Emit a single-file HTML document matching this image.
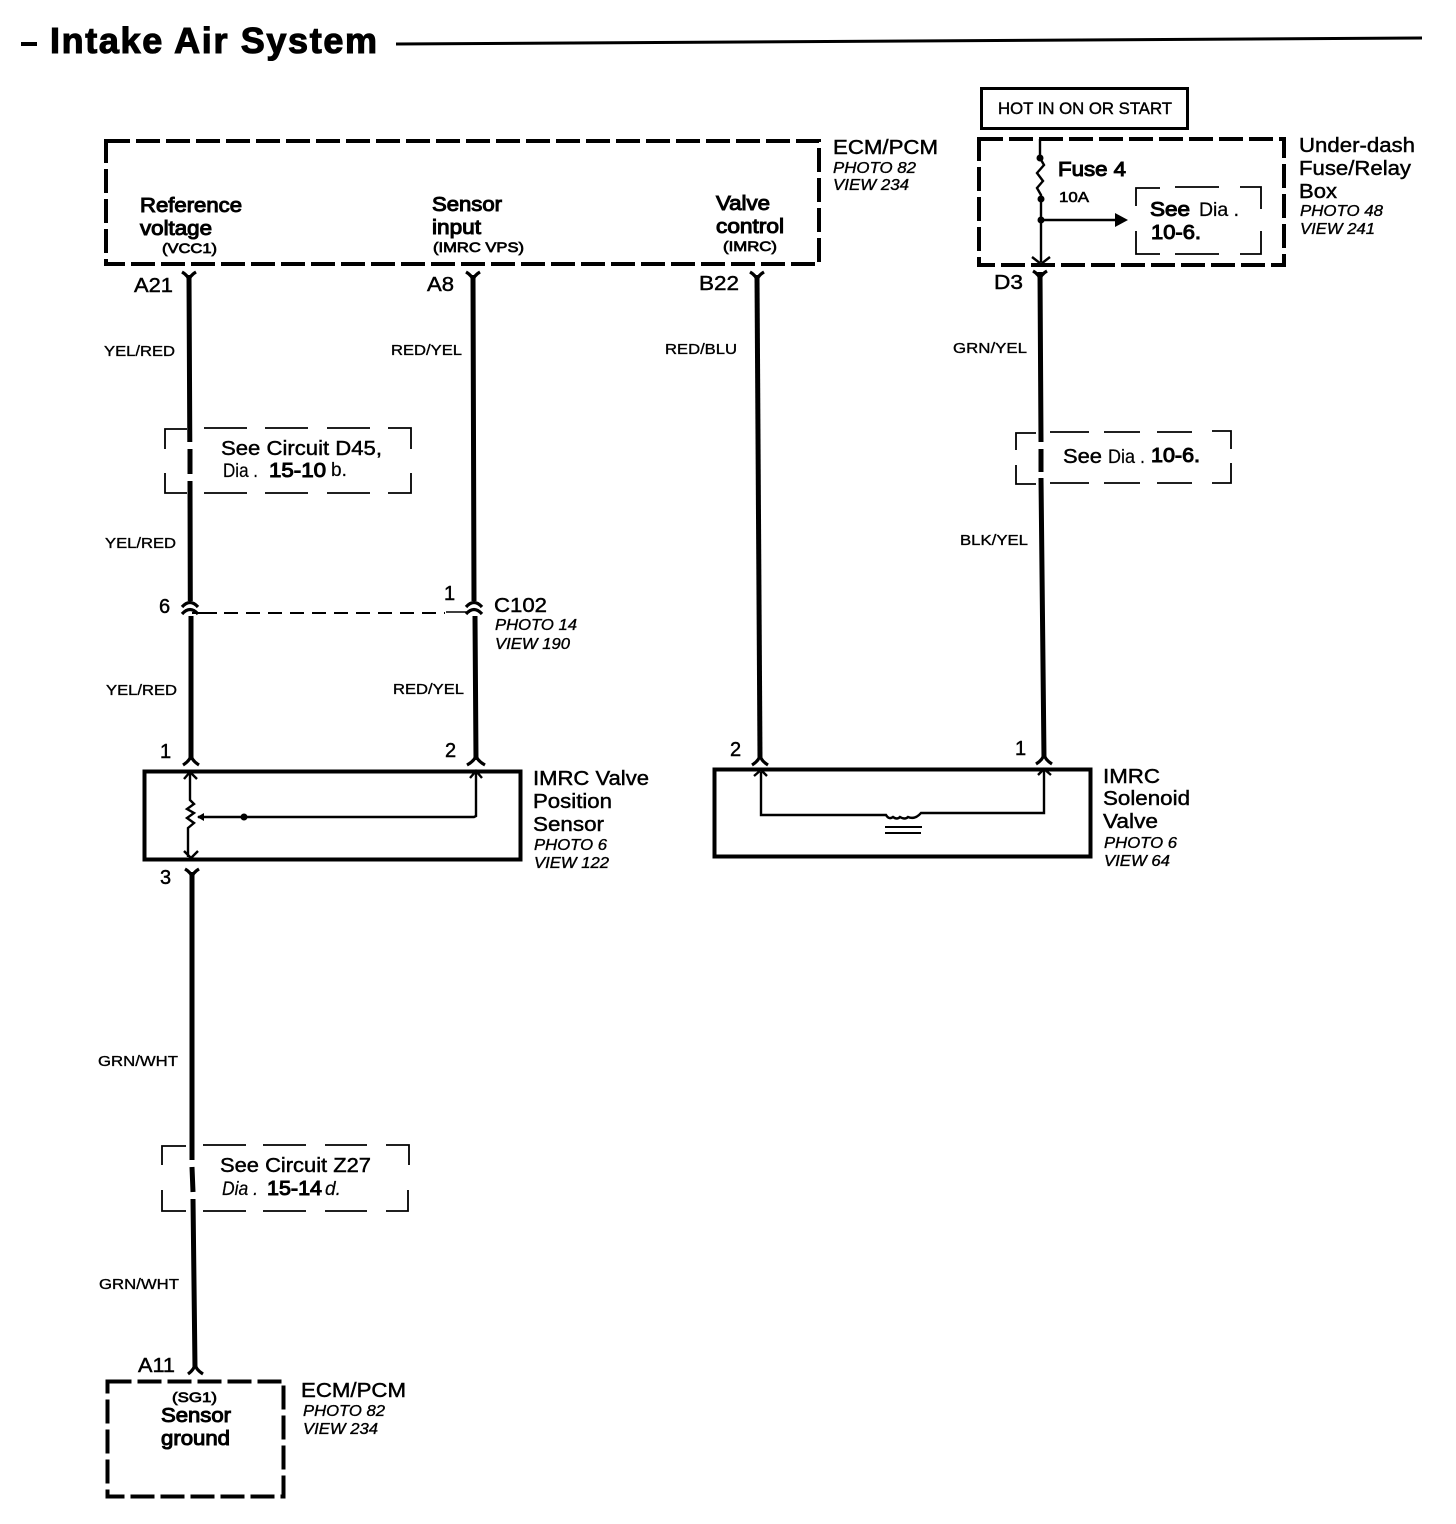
<!DOCTYPE html>
<html><head><meta charset="utf-8"><title>Intake Air System</title>
<style>
html,body{margin:0;padding:0;background:#fff;width:1456px;height:1524px;overflow:hidden}
svg{display:block}
text{font-family:"Liberation Sans",sans-serif;fill:#000}
.l{font-size:20px;stroke:#000;stroke-width:.45}
.b{font-size:20px;stroke:#000;stroke-width:1}
.s{font-size:15px;stroke:#000;stroke-width:.35}
.i{font-size:15.5px;font-style:italic;stroke:#000;stroke-width:.35}
.m{font-size:14px;stroke:#000;stroke-width:.7}
.w{fill:none;stroke:#000;stroke-width:5}
.t{fill:none;stroke:#000;stroke-width:2.4}
.c{fill:none;stroke:#000;stroke-width:3.2}
.d{fill:none;stroke:#000;stroke-width:4;stroke-dasharray:24 6}
.n{fill:none;stroke:#000;stroke-width:1.8}
</style></head><body>
<svg width="1456" height="1524" viewBox="0 0 1456 1524" xmlns="http://www.w3.org/2000/svg">
<rect width="1456" height="1524" fill="#fff"/>

<!-- Title -->
<path d="M21 44H37" stroke="#000" stroke-width="4"/>
<text x="50" y="53" font-size="36" font-weight="bold" textLength="327" lengthAdjust="spacing" stroke="#000" stroke-width="1.1">Intake Air System</text>
<path d="M396 44L1422 38" stroke="#000" stroke-width="3"/>

<!-- ECM/PCM top -->
<rect class="d" x="106" y="141" width="713" height="123"/>
<text class="b" x="140" y="212" textLength="102" lengthAdjust="spacingAndGlyphs">Reference</text>
<text class="b" x="140" y="235" textLength="72" lengthAdjust="spacingAndGlyphs">voltage</text>
<text class="m" x="162" y="253" textLength="55" lengthAdjust="spacingAndGlyphs">(VCC1)</text>
<text class="b" x="432" y="211" textLength="70" lengthAdjust="spacingAndGlyphs">Sensor</text>
<text class="b" x="432" y="234" textLength="49" lengthAdjust="spacingAndGlyphs">input</text>
<text class="m" x="433" y="252" textLength="91" lengthAdjust="spacingAndGlyphs">(IMRC VPS)</text>
<text class="b" x="716" y="210" textLength="54" lengthAdjust="spacingAndGlyphs">Valve</text>
<text class="b" x="716" y="233" textLength="68" lengthAdjust="spacingAndGlyphs">control</text>
<text class="m" x="723" y="251" textLength="54" lengthAdjust="spacingAndGlyphs">(IMRC)</text>
<text class="l" x="833" y="154" textLength="105" lengthAdjust="spacingAndGlyphs">ECM/PCM</text>
<text class="i" x="833" y="173" textLength="83" lengthAdjust="spacingAndGlyphs">PHOTO 82</text>
<text class="i" x="833" y="190" textLength="76" lengthAdjust="spacingAndGlyphs">VIEW 234</text>

<!-- Hot box -->
<rect x="981.500" y="88.500" width="206" height="40" fill="none" stroke="#000" stroke-width="3"/>
<text x="998" y="114" font-size="16.500" stroke="#000" stroke-width=".4" textLength="174" lengthAdjust="spacingAndGlyphs">HOT IN ON OR START</text>

<!-- Fuse box -->
<rect class="d" x="979" y="139" width="305" height="126"/>
<path class="t" d="M1040 139V158M1040 158L1044 165L1037 173L1043 181L1037 188L1041 195V262"/>
<circle cx="1040" cy="158" r="3.500"/><circle cx="1041" cy="199" r="3.500"/><circle cx="1041" cy="220" r="3.500"/>
<path class="t" d="M1041 220H1118"/>
<path d="M1115 213L1128 220L1115 227Z"/>
<path class="t" d="M1032 257L1041 264L1050 257"/>
<text class="b" x="1058" y="176" textLength="68" lengthAdjust="spacingAndGlyphs">Fuse 4</text>
<text x="1059" y="202" font-size="15" stroke="#000" stroke-width=".6" textLength="30" lengthAdjust="spacingAndGlyphs">10A</text>
<path class="n" d="M1136 206V188H1160M1175 187H1219M1240 187H1261V209M1261 231V254H1240M1219 254H1175M1160 254H1136V231"/>
<text class="b" x="1150" y="216" textLength="40" lengthAdjust="spacingAndGlyphs">See</text>
<text x="1199" y="216" font-size="19" stroke="#000" stroke-width=".25" textLength="40" lengthAdjust="spacingAndGlyphs">Dia .</text>
<text class="b" x="1151" y="239" textLength="50" lengthAdjust="spacingAndGlyphs">10-6.</text>
<text class="l" x="1299" y="152" textLength="116" lengthAdjust="spacingAndGlyphs">Under-dash</text>
<text class="l" x="1299" y="175" textLength="112" lengthAdjust="spacingAndGlyphs">Fuse/Relay</text>
<text class="l" x="1299" y="198" textLength="38" lengthAdjust="spacingAndGlyphs">Box</text>
<text class="i" x="1300" y="216" textLength="83" lengthAdjust="spacingAndGlyphs">PHOTO 48</text>
<text class="i" x="1300" y="234" textLength="75" lengthAdjust="spacingAndGlyphs">VIEW 241</text>

<!-- Wires -->
<path class="w" d="M189 275L189.800 442M190 449L190 474M190 481L190.300 601M191 616L191 760"/>
<path class="w" d="M473 275L474 601M475 616L476 760"/>
<path class="w" d="M757 275L760 758"/>
<path class="w" d="M1040 272L1041 442M1041 449L1041 472M1041 478L1044 758"/>
<path class="w" d="M192 872L192 1160M192 1167L193 1192M193 1199L195 1368"/>

<!-- Y connectors top -->
<path class="c" d="M182 272Q189 276 189 282Q189 276 196 272"/>
<path class="c" d="M466 272Q473 276 473 282Q473 276 480 272"/>
<path class="c" d="M750 272Q757 276 757 282Q757 276 764 272"/>
<path class="c" d="M1033 271Q1040 275 1040 281Q1040 275 1047 271"/>
<path class="c" d="M185 869Q192 873 192 879Q192 873 199 869"/>
<!-- Lower connectors -->
<path class="c" d="M183 765Q191 760 191 754Q191 760 199 765"/>
<path class="c" d="M467 765Q476 760 476 754Q476 760 485 765"/>
<path class="c" d="M752 765Q760 760 760 754Q760 760 768 765"/>
<path class="c" d="M1036 764Q1044 759 1044 753Q1044 759 1052 764"/>
<path class="c" d="M188 1374Q195 1369 195 1363Q195 1369 203 1374"/>
<!-- C102 -->
<path class="c" d="M182 607Q190 598 198 607M182 614Q190 605 198 614"/>
<path class="c" d="M466 607Q474 598 482 607M466 614Q474 605 482 614"/>
<path d="M192 613H217" fill="none" stroke="#000" stroke-width="2"/>
<path d="M224 613H445" fill="none" stroke="#000" stroke-width="2" stroke-dasharray="14 8"/>
<path d="M446 612H470" fill="none" stroke="#000" stroke-width="1.500"/>

<!-- Pins & wire labels -->
<text class="l" x="134" y="292" textLength="39" lengthAdjust="spacingAndGlyphs">A21</text>
<text class="l" x="427" y="291" textLength="27" lengthAdjust="spacingAndGlyphs">A8</text>
<text class="l" x="699" y="290" textLength="40" lengthAdjust="spacingAndGlyphs">B22</text>
<text class="l" x="994" y="289" textLength="29" lengthAdjust="spacingAndGlyphs">D3</text>
<text class="s" x="104" y="356" textLength="71" lengthAdjust="spacingAndGlyphs">YEL/RED</text>
<text class="s" x="391" y="355" textLength="71" lengthAdjust="spacingAndGlyphs">RED/YEL</text>
<text class="s" x="665" y="354" textLength="72" lengthAdjust="spacingAndGlyphs">RED/BLU</text>
<text class="s" x="953" y="353" textLength="74" lengthAdjust="spacingAndGlyphs">GRN/YEL</text>
<text class="s" x="105" y="548" textLength="71" lengthAdjust="spacingAndGlyphs">YEL/RED</text>
<text class="s" x="960" y="545" textLength="68" lengthAdjust="spacingAndGlyphs">BLK/YEL</text>
<text class="l" x="159" y="613">6</text>
<text class="l" x="444" y="600">1</text>
<text class="l" x="494" y="612" textLength="53" lengthAdjust="spacingAndGlyphs">C102</text>
<text class="i" x="495" y="630" textLength="82" lengthAdjust="spacingAndGlyphs">PHOTO 14</text>
<text class="i" x="495" y="649" textLength="75" lengthAdjust="spacingAndGlyphs">VIEW 190</text>
<text class="s" x="106" y="695" textLength="71" lengthAdjust="spacingAndGlyphs">YEL/RED</text>
<text class="s" x="393" y="694" textLength="71" lengthAdjust="spacingAndGlyphs">RED/YEL</text>
<text class="l" x="160" y="758">1</text>
<text class="l" x="445" y="757">2</text>
<text class="l" x="730" y="756">2</text>
<text class="l" x="1015" y="755">1</text>
<text class="l" x="160" y="884">3</text>
<text class="s" x="98" y="1066" textLength="80" lengthAdjust="spacingAndGlyphs">GRN/WHT</text>
<text class="s" x="99" y="1289" textLength="80" lengthAdjust="spacingAndGlyphs">GRN/WHT</text>

<!-- Callouts -->
<path class="n" d="M165 449V429H187M204 428H247M265 428H308M327 428H370M388 428H411V449M411 473V493H388M370 493H327M308 493H265M247 493H204M187 493H165V473"/>
<text class="l" x="221" y="455" textLength="161" lengthAdjust="spacingAndGlyphs">See Circuit D45,</text>
<text x="223" y="477" font-size="19" stroke="#000" stroke-width=".2" textLength="35" lengthAdjust="spacingAndGlyphs">Dia .</text>
<text class="b" x="269" y="477" textLength="57" lengthAdjust="spacingAndGlyphs">15-10</text>
<text x="331" y="476" font-size="19" stroke="#000" stroke-width=".2">b.</text>

<path class="n" d="M1016 450V433H1036M1050 432H1089M1104 432H1140M1157 432H1192M1212 431H1231V449M1231 463V483H1212M1192 483H1157M1140 483H1104M1089 483H1050M1036 484H1016V465"/>
<text class="l" x="1063" y="463" textLength="39" lengthAdjust="spacingAndGlyphs">See</text>
<text x="1108" y="463" font-size="19" stroke="#000" stroke-width=".2" textLength="37" lengthAdjust="spacingAndGlyphs">Dia .</text>
<text class="b" x="1151" y="462" textLength="49" lengthAdjust="spacingAndGlyphs">10-6.</text>

<path class="n" d="M162 1165V1146H186M203 1145H246M263 1145H306M325 1145H367M386 1145H409V1165M408 1190V1211H386M367 1211H325M306 1211H263M246 1211H203M186 1211H162V1190"/>
<text class="l" x="220" y="1172" textLength="151" lengthAdjust="spacingAndGlyphs">See Circuit Z27</text>
<text x="222" y="1195" font-size="19" font-style="italic" stroke="#000" stroke-width=".2" textLength="36" lengthAdjust="spacingAndGlyphs">Dia .</text>
<text class="b" x="267" y="1195" textLength="55" lengthAdjust="spacingAndGlyphs">15-14</text>
<text x="325" y="1195" font-size="19" font-style="italic" stroke="#000" stroke-width=".2">d.</text>

<!-- IMRC valve position sensor -->
<rect x="144.500" y="771.500" width="376" height="88" fill="none" stroke="#000" stroke-width="4"/>
<path class="t" d="M190 772V800L194 804L187 809L194 813L187 818L194 823L188 828V857"/>
<path class="t" d="M184 779L190 772L197 779M184 851L191 858L198 851"/>
<path class="t" d="M198 817H474L476 816V772M470 778L476 771L482 778"/>
<path d="M204 813L197 817L204 821Z"/>
<circle cx="244" cy="817" r="3.500"/>
<text class="l" x="533" y="785" textLength="116" lengthAdjust="spacingAndGlyphs">IMRC Valve</text>
<text class="l" x="533" y="808" textLength="79" lengthAdjust="spacingAndGlyphs">Position</text>
<text class="l" x="533" y="831" textLength="71" lengthAdjust="spacingAndGlyphs">Sensor</text>
<text class="i" x="534" y="850" textLength="73" lengthAdjust="spacingAndGlyphs">PHOTO 6</text>
<text class="i" x="534" y="868" textLength="75" lengthAdjust="spacingAndGlyphs">VIEW 122</text>

<!-- IMRC solenoid valve -->
<rect x="714.500" y="769.500" width="376" height="87" fill="none" stroke="#000" stroke-width="4"/>
<path class="t" d="M761 772V815H886Q889 820 893 817Q897 820 900 817Q905 820 908 817Q915 820 921 813H1044V771"/>
<path class="t" d="M754 776L761 770L767 776M1038 775L1044 769L1051 775"/>
<path d="M885 827H922M885 833H921" stroke="#000" stroke-width="2"/>
<text class="l" x="1103" y="783" textLength="57" lengthAdjust="spacingAndGlyphs">IMRC</text>
<text class="l" x="1103" y="805" textLength="87" lengthAdjust="spacingAndGlyphs">Solenoid</text>
<text class="l" x="1103" y="828" textLength="55" lengthAdjust="spacingAndGlyphs">Valve</text>
<text class="i" x="1104" y="848" textLength="73" lengthAdjust="spacingAndGlyphs">PHOTO 6</text>
<text class="i" x="1104" y="866" textLength="66" lengthAdjust="spacingAndGlyphs">VIEW 64</text>

<!-- ECM/PCM bottom -->
<rect x="107.500" y="1381.500" width="176" height="115" fill="none" stroke="#000" stroke-width="4" stroke-dasharray="24 6"/>
<text class="l" x="138" y="1372" textLength="37" lengthAdjust="spacingAndGlyphs">A11</text>
<text class="m" x="172" y="1402" textLength="45" lengthAdjust="spacingAndGlyphs">(SG1)</text>
<text class="b" x="161" y="1422" textLength="70" lengthAdjust="spacingAndGlyphs">Sensor</text>
<text class="b" x="161" y="1445" textLength="69" lengthAdjust="spacingAndGlyphs">ground</text>
<text class="l" x="301" y="1397" textLength="105" lengthAdjust="spacingAndGlyphs">ECM/PCM</text>
<text class="i" x="303" y="1416" textLength="82" lengthAdjust="spacingAndGlyphs">PHOTO 82</text>
<text class="i" x="303" y="1434" textLength="75" lengthAdjust="spacingAndGlyphs">VIEW 234</text>
</svg>
</body></html>
